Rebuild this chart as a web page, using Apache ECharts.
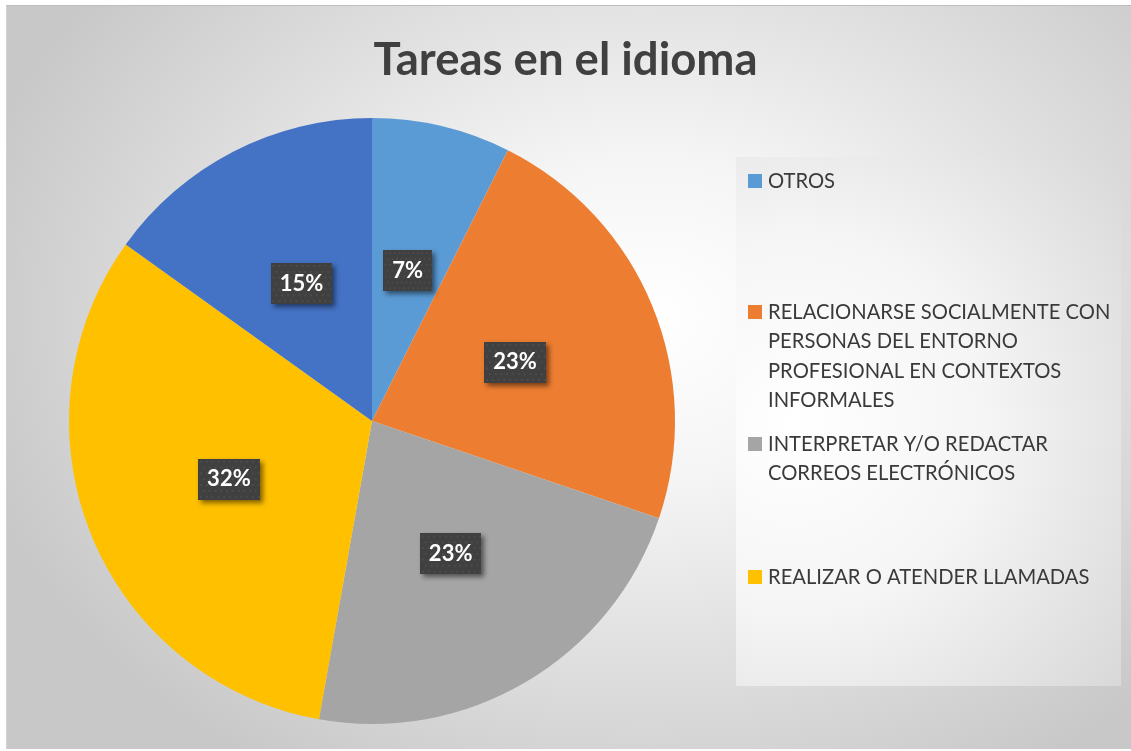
<!DOCTYPE html>
<html>
<head>
<meta charset="utf-8">
<script src="https://cdn.jsdelivr.net/npm/echarts@6/dist/echarts.min.js"></script>
<style>
  html, body { margin: 0; padding: 0; background: #fff; }
  #fondo {
    position: absolute; left: 6px; top: 5px; width: 1125px; height: 743px;
    border-top: 1px solid #bdbdbd; border-left: 1px solid #d0d0d0;
    background: radial-gradient(ellipse 62% 72% at 57% 42%, #ffffff 0%, #f5f5f5 30%, #c8c8c8 100%);
  }
  #chart { position: absolute; left: 0; top: 0; width: 1131px; height: 751px; }
</style>
</head>
<body>
<div id="fondo"></div>
<div id="chart"></div>
<script>
// datos del gráfico (porcentajes)
const categorias = [
  'OTROS',
  'RELACIONARSE SOCIALMENTE CON PERSONAS DEL ENTORNO PROFESIONAL EN CONTEXTOS INFORMALES',
  'INTERPRETAR Y/O REDACTAR CORREOS ELECTRÓNICOS',
  'REALIZAR O ATENDER LLAMADAS',
  'SIN LEYENDA'
]
const valores = [7.4, 22.8, 22.6, 32.1, 15.1]
const colores = ['#5B9BD5', '#ED7D31', '#A5A5A5', '#FFC000', '#4472C4']
// cortes de línea de la leyenda, como en el original
const lineasLeyenda = [
  ['OTROS'],
  ['RELACIONARSE SOCIALMENTE CON', 'PERSONAS DEL ENTORNO', 'PROFESIONAL EN CONTEXTOS', 'INFORMALES'],
  ['INTERPRETAR Y/O REDACTAR', 'CORREOS ELECTRÓNICOS'],
  ['REALIZAR O ATENDER LLAMADAS']
]

// fondo punteado de las etiquetas
const trama = document.createElement('canvas')
trama.width = 64
trama.height = 42
const ctx = trama.getContext('2d')
ctx.fillStyle = '#404040'
ctx.fillRect(0, 0, 64, 42)
ctx.fillStyle = '#4c4c4c'
for (let y = 2; y < 42; y += 6) {
  for (let x = (y % 12 === 2 ? 2 : 5); x < 64; x += 6) {
    ctx.fillRect(x, y, 2, 2)
  }
}

const chart = echarts.init(document.getElementById('chart'))

// una leyenda por elemento, para que cada uno ocupe su hueco fijo
const topsLeyenda = [171, 302, 434, 567]
const leyendas = lineasLeyenda.map((lineas, i) => ({
  data: [categorias[i]],
  orient: 'vertical',
  left: 743,
  top: topsLeyenda[i],
  padding: 0,
  itemWidth: 0,
  itemHeight: 0,
  selectedMode: false,
  formatter: () => lineas.map((l, k) => (k === 0 ? '{caja|}{hueco|}' : '{sangria|}') + '{t|' + l + '}').join('\n'),
  textStyle: {
    rich: {
      caja: { width: 14, height: 14, backgroundColor: colores[i] },
      hueco: { width: 6 },
      sangria: { width: 20 },
      t: { fontFamily: 'Lato', fontSize: 20.2, color: '#3a3a3a', lineHeight: 29.5 }
    }
  }
}))

const option = {
  animation: false,
  title: {
    text: 'Tareas en el idioma',
    left: 'center',
    top: 32,
    padding: [5, 0, 5, 10],
    textStyle: { fontFamily: 'Lato', fontWeight: 'bold', fontSize: 45.5, color: '#404040' }
  },
  legend: leyendas,
  graphic: [{
    type: 'rect',
    z: -1,
    shape: { x: 736, y: 157, width: 385, height: 529 },
    style: {
      fill: {
        type: 'radial', x: 0.15, y: 0.5, r: 1.1,
        colorStops: [
          { offset: 0, color: '#ffffff' },
          { offset: 0.45, color: '#f5f5f5' },
          { offset: 1, color: '#d8d8d8' }
        ]
      }
    }
  }],
  series: [{
    type: 'pie',
    center: [372, 421],
    radius: 303,
    startAngle: 90,
    clockwise: true,
    avoidLabelOverlap: false,
    label: {
      position: 'inside',
      formatter: p => Math.round(p.percent) + '%',
      fontFamily: 'Lato',
      fontWeight: 'bold',
      fontSize: 22,
      color: '#ffffff',
      backgroundColor: { image: trama },
      padding: [10, 9, 9, 9],
      shadowColor: 'rgba(0,0,0,0.5)',
      shadowBlur: 5,
      shadowOffsetX: 3,
      shadowOffsetY: 3
    },
    labelLine: { show: false },
    emphasis: { disabled: true },
    data: categorias.map((c, i) => ({
      name: c,
      value: valores[i],
      itemStyle: { color: colores[i] }
    }))
  }]
}

chart.setOption(option)
</script>
</body>
</html>
